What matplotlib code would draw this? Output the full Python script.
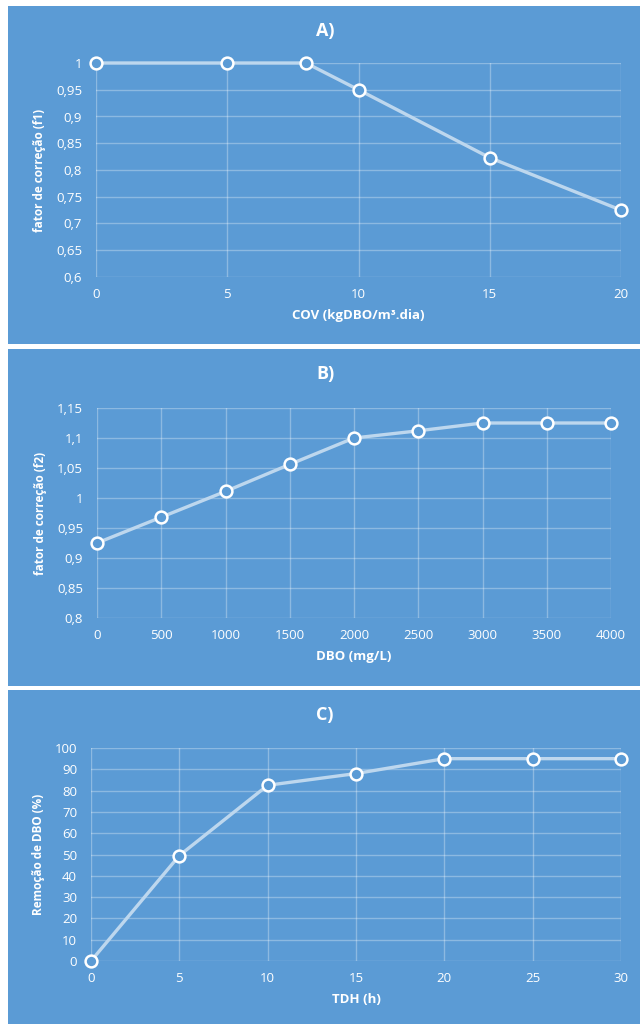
import matplotlib
matplotlib.use("Agg")
import matplotlib.pyplot as plt
from matplotlib.patches import Rectangle
from matplotlib.ticker import FuncFormatter, MultipleLocator

plt.rcParams['font.family'] = ['Open Sans', 'DejaVu Sans']

# Panel A: correction factor f1 vs volumetric organic load
cov = [0, 5, 8, 10, 15, 20]
f1 = [1.0, 1.0, 1.0, 0.95, 0.823, 0.725]

# Panel B: correction factor f2 vs BOD concentration
dbo = [0, 500, 1000, 1500, 2000, 2500, 3000, 3500, 4000]
f2 = [0.925, 0.968, 1.011, 1.056, 1.10, 1.112, 1.125, 1.125, 1.125]

# Panel C: BOD removal vs hydraulic retention time
tdh = [0, 5, 10, 15, 20, 25, 30]
remocao = [0, 49.5, 82.5, 88, 95, 95, 95]

BG = '#5B9BD5'
LINE = '#BDD7EE'
W, H = 640, 1024

fig = plt.figure(figsize=(6.4, 10.24), dpi=100, facecolor='white')


def px_rect(x0, y0, x1, y1):
    return [x0 / W, 1 - y1 / H, (x1 - x0) / W, (y1 - y0) / H]


def comma(v, _):
    s = f"{v:.2f}".rstrip('0').rstrip('.')
    return s.replace('.', ',')


panels = [
    dict(bg=(8, 6, 640, 344), ax=(96, 63, 621, 277), title='A)',
         x=cov, y=f1, xlim=(0, 20), xstep=5, ylim=(0.6, 1.0), ystep=0.05,
         xlabel='COV (kgDBO/m³.dia)', ylabel='fator de correção (f1)', fmt=comma),
    dict(bg=(8, 349, 640, 686), ax=(97, 408, 611, 618), title='B)',
         x=dbo, y=f2, xlim=(0, 4000), xstep=500, ylim=(0.8, 1.15), ystep=0.05,
         xlabel='DBO (mg/L)', ylabel='fator de correção (f2)', fmt=comma),
    dict(bg=(8, 690, 640, 1024), ax=(91, 748, 621, 961), title='C)',
         x=tdh, y=remocao, xlim=(0, 30), xstep=5, ylim=(0, 100), ystep=10,
         xlabel='TDH (h)', ylabel='Remoção de DBO (%)', fmt=None),
]

for p in panels:
    x0, y0, x1, y1 = p['bg']
    fig.patches.append(Rectangle((x0 / W, 1 - y1 / H), (x1 - x0) / W, (y1 - y0) / H,
                                 transform=fig.transFigure, facecolor=BG,
                                 edgecolor='none', zorder=-5))
    ax = fig.add_axes(px_rect(*p['ax']))
    ax.set_zorder(2)
    ax.patch.set_alpha(0)
    ax.plot(p['x'], p['y'], color=LINE, lw=2.4, marker='o', ms=8.5,
            mfc=BG, mec='white', mew=1.8, clip_on=False, zorder=3)
    ax.set_xlim(*p['xlim'])
    ax.set_ylim(*p['ylim'])
    ax.xaxis.set_major_locator(MultipleLocator(p['xstep']))
    ax.yaxis.set_major_locator(MultipleLocator(p['ystep']))
    if p['fmt']:
        ax.yaxis.set_major_formatter(FuncFormatter(p['fmt']))
    ax.grid(True, color='white', alpha=0.3, lw=1.0)
    for s in ax.spines.values():
        s.set_visible(False)
    ax.tick_params(length=0, colors='white', labelsize=9.5, pad=8)
    ax.tick_params(axis='y', pad=10)
    ax.set_xlabel(p['xlabel'], color='white', fontsize=9.5, fontweight='bold', labelpad=6)
    ax.set_ylabel(p['ylabel'], color='white', fontsize=8.5, fontweight='bold', labelpad=7)
    fig.text(0.508, 1 - (y0 + 25) / H, p['title'], color='white', fontsize=13,
             fontweight='bold', ha='center', va='center', zorder=5)

fig.savefig('out.png', dpi=100, facecolor='white')
